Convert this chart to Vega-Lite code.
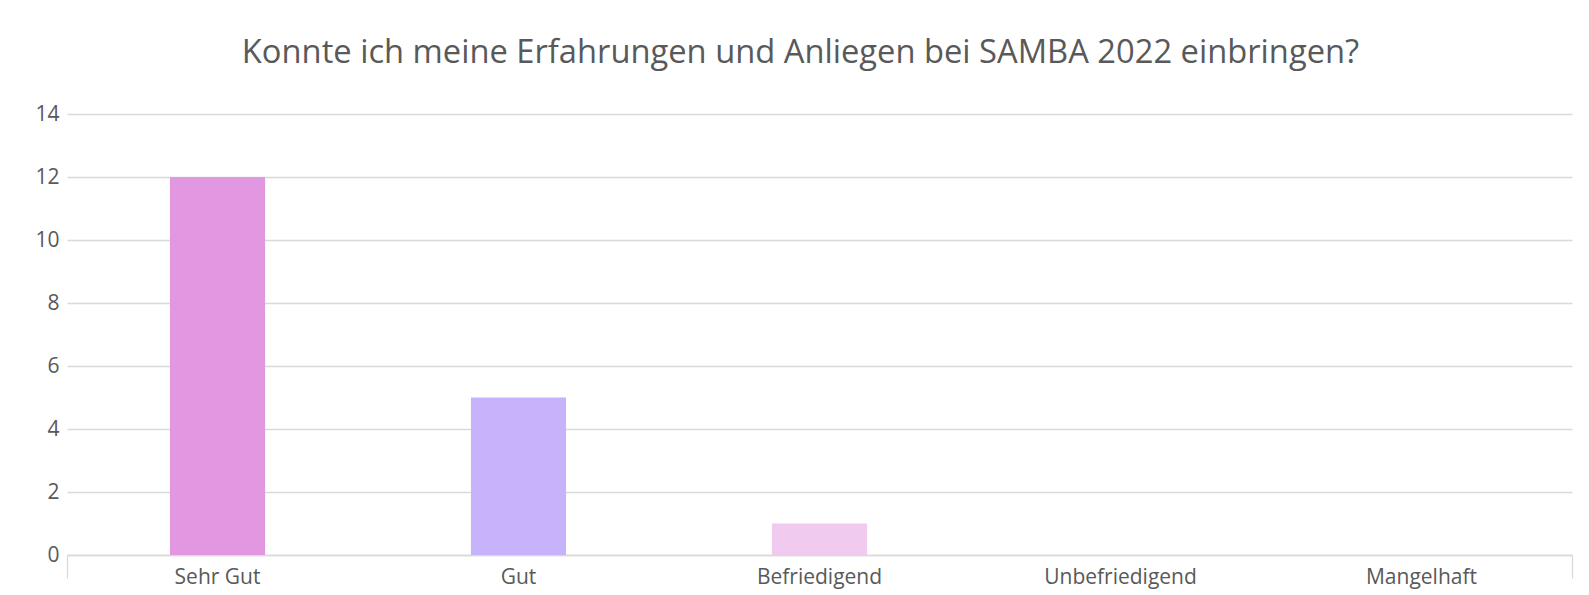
{
  "$schema": "https://vega.github.io/schema/vega-lite/v6.json",
  "autosize": {"type": "none"},
  "width": 1505,
  "height": 441,
  "padding": {"left": 67, "top": 114, "right": 17, "bottom": 40},
  "background": "#ffffff",
  "config": {
    "view": {"stroke": null},
    "font": "Open Sans"
  },
  "title": {
    "text": "Konnte ich meine Erfahrungen und Anliegen bei SAMBA 2022 einbringen?",
    "font": "Open Sans",
    "fontSize": 32.7,
    "fontWeight": "normal",
    "color": "#595959",
    "anchor": "middle",
    "dx": -19,
    "offset": 33
  },
  "data": {
    "values": [
      {"kategorie": "Sehr Gut", "anzahl": 12},
      {"kategorie": "Gut", "anzahl": 5},
      {"kategorie": "Befriedigend", "anzahl": 1},
      {"kategorie": "Unbefriedigend", "anzahl": 0},
      {"kategorie": "Mangelhaft", "anzahl": 0}
    ]
  },
  "layer": [
    {
      "mark": {"type": "bar"},
      "encoding": {
        "x": {
          "field": "kategorie",
          "type": "nominal",
          "sort": ["Sehr Gut", "Gut", "Befriedigend", "Unbefriedigend", "Mangelhaft"],
          "scale": {"paddingInner": 0.684, "paddingOuter": 0.342},
          "axis": {
            "title": null,
            "labelAngle": 0,
            "labelFont": "Open Sans",
            "labelFontSize": 21,
            "labelColor": "#595959",
            "labelPadding": 11,
            "ticks": false,
            "domainColor": "#d9d9d9",
            "domainWidth": 1.3,
            "grid": false
          }
        },
        "y": {
          "field": "anzahl",
          "type": "quantitative",
          "scale": {"domain": [0, 14], "nice": false},
          "axis": {
            "title": null,
            "values": [0, 2, 4, 6, 8, 10, 12, 14],
            "labelFont": "Open Sans",
            "labelFontSize": 21,
            "labelColor": "#595959",
            "labelPadding": 8,
            "ticks": false,
            "domain": false,
            "grid": true,
            "gridColor": "#d9d9d9",
            "gridWidth": 1.3
          }
        },
        "color": {
          "field": "kategorie",
          "type": "nominal",
          "scale": {
            "domain": ["Sehr Gut", "Gut", "Befriedigend", "Unbefriedigend", "Mangelhaft"],
            "range": ["#e298e0", "#c7b3fc", "#f1caef", "#e298e0", "#c7b3fc"]
          },
          "legend": null
        }
      }
    },
    {
      "mark": {"type": "point", "opacity": 0},
      "encoding": {
        "x": {
          "field": "anzahl",
          "type": "quantitative",
          "scale": {"domain": [0, 1], "nice": false},
          "axis": {
            "orient": "bottom",
            "title": null,
            "values": [0, 1],
            "labels": false,
            "domain": false,
            "grid": false,
            "ticks": true,
            "tickSize": 23,
            "tickColor": "#d9d9d9",
            "tickWidth": 1.3
          }
        }
      }
    }
  ],
  "resolve": {"scale": {"x": "independent", "color": "independent"}}
}
